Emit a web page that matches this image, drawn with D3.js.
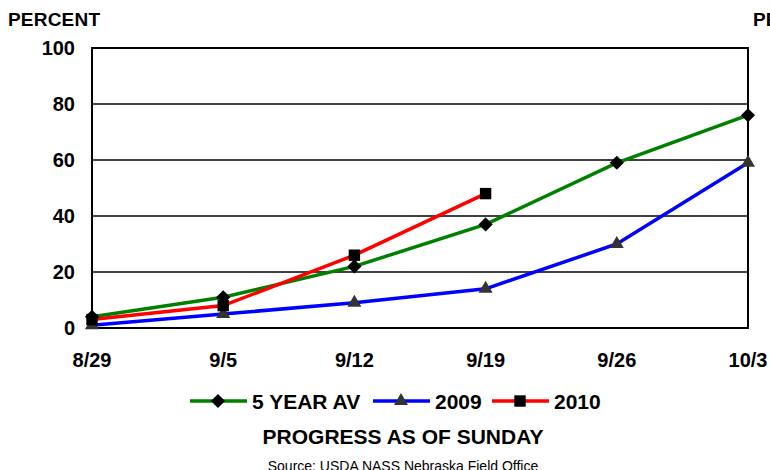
<html>
<head>
    <title>Progress as of Sunday</title>
    <style>
        body { margin: 0; background: #fff; }
        text { font-family: "Liberation Sans", Arial, sans-serif; }
    </style>
</head>
<body>
    <script src="https://cdn.jsdelivr.net/npm/d3@7/dist/d3.min.js"></script>
    <script>
        var width = 770, height = 470;
        var margin = { left: 92, right: 22, top: 48, bottom: 142 };

        // data
        var weeks = ["8/29", "9/5", "9/12", "9/19", "9/26", "10/3"];
        var avg5 = [4, 11, 22, 37, 59, 76];
        var y2009 = [1, 5, 9, 14, 30, 59];
        var y2010 = [3, 8, 26, 48];
        var yTicks = [0, 20, 40, 60, 80, 100];

        // diamond = square turned 45 degrees
        var series = [
            { name: "5 YEAR AV", values: avg5, color: "#008000", mark: d3.symbolSquare, rot: 45, fill: "#000", size: 100 },
            { name: "2009", values: y2009, color: "#0000ff", mark: d3.symbolTriangle, rot: 0, fill: "#333", size: 85 },
            { name: "2010", values: y2010, color: "#ff0000", mark: d3.symbolSquare, rot: 0, fill: "#000", size: 130 }
        ];

        var svg = d3.select("body").append("svg")
            .attr("width", width)
            .attr("height", height);

        var x = d3.scalePoint()
            .domain(weeks)
            .range([margin.left, width - margin.right]);
        var y = d3.scaleLinear()
            .domain([0, 100])
            .range([height - margin.bottom, margin.top]);

        // gridlines
        svg.selectAll(".grid")
            .data(yTicks.slice(1, -1))
            .enter()
            .append("line")
            .attr("x1", x.range()[0])
            .attr("x2", x.range()[1])
            .attr("y1", d => y(d))
            .attr("y2", d => y(d))
            .style("stroke", "#000")
            .style("stroke-width", 1.3);

        // plot box
        svg.append("rect")
            .attr("x", x.range()[0])
            .attr("y", y(100))
            .attr("width", x.range()[1] - x.range()[0])
            .attr("height", y(0) - y(100))
            .style("fill", "none")
            .style("stroke", "#000")
            .style("stroke-width", 2);

        // y axis labels
        svg.selectAll(".ylab")
            .data(yTicks)
            .enter()
            .append("text")
            .attr("x", 75)
            .attr("y", d => y(d) + 7)
            .attr("text-anchor", "end")
            .style("font-size", "20px")
            .style("font-weight", "bold")
            .text(d => d);

        // x axis labels
        svg.selectAll(".xlab")
            .data(weeks)
            .enter()
            .append("text")
            .attr("x", d => x(d))
            .attr("y", 367)
            .attr("text-anchor", "middle")
            .style("font-size", "20px")
            .style("font-weight", "bold")
            .text(d => d);

        svg.append("text")
            .attr("x", 8)
            .attr("y", 26)
            .style("font-size", "19px")
            .style("font-weight", "bold")
            .style("letter-spacing", "0.2px")
            .text("PERCENT");
        svg.append("text")
            .attr("x", 753)
            .attr("y", 26)
            .style("font-size", "19px")
            .style("font-weight", "bold")
            .style("letter-spacing", "0.2px")
            .text("PERCENT");

        var line = d3.line()
            .x((d, i) => x(weeks[i]))
            .y(d => y(d));

        series.forEach(function (s) {
            svg.append("path")
                .datum(s.values)
                .attr("d", line)
                .style("fill", "none")
                .style("stroke", s.color)
                .style("stroke-width", 3.5);
        });
        series.forEach(function (s) {
            svg.selectAll(null)
                .data(s.values)
                .enter()
                .append("path")
                .attr("d", d3.symbol().type(s.mark).size(s.size))
                .attr("transform", (d, i) => "translate(" + x(weeks[i]) + "," + y(d) + ") rotate(" + s.rot + ")")
                .style("fill", s.fill);
        });

        // legend
        var legX = [190, 373, 492];
        var legend = svg.selectAll(".legend")
            .data(series)
            .enter()
            .append("g")
            .attr("transform", (d, i) => "translate(" + legX[i] + ",401)");
        legend.append("line")
            .attr("x1", 0).attr("x2", 57)
            .style("stroke", d => d.color)
            .style("stroke-width", 3.5);
        legend.append("path")
            .attr("transform", d => "translate(28,0) rotate(" + d.rot + ")")
            .attr("d", d => d3.symbol().type(d.mark).size(d.size)())
            .style("fill", d => d.fill);
        legend.append("text")
            .attr("x", 62)
            .attr("y", 8)
            .style("font-size", "21px")
            .style("font-weight", "bold")
            .text(d => d.name);

        svg.append("text")
            .attr("x", 403)
            .attr("y", 444)
            .attr("text-anchor", "middle")
            .style("font-size", "21px")
            .style("font-weight", "bold")
            .text("PROGRESS AS OF SUNDAY");
        svg.append("text")
            .attr("x", 403)
            .attr("y", 471)
            .attr("text-anchor", "middle")
            .style("font-size", "14px")
            .text("Source: USDA NASS Nebraska Field Office");
    </script>
</body>
</html>
